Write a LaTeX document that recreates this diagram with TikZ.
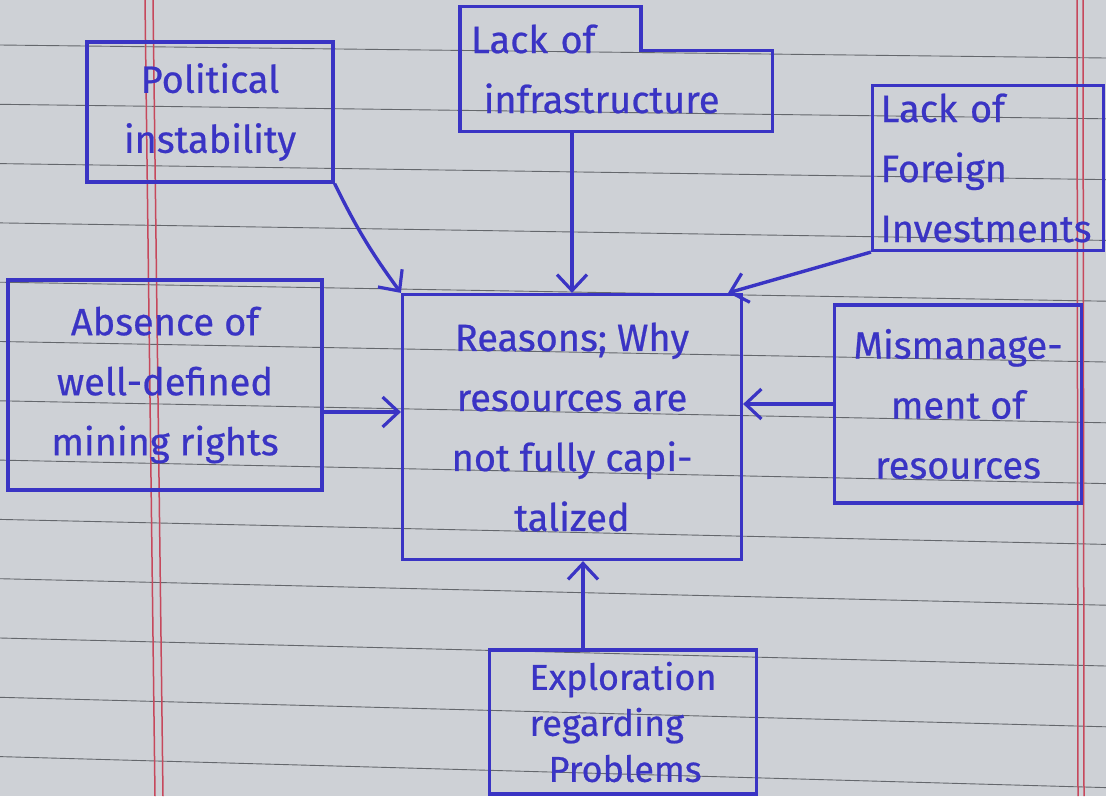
\documentclass[tikz,border=0pt]{standalone}
\usepackage{fontspec}
\newfontfamily\hand{Fira Sans}[FakeBold=0.6]
\usepackage{xcolor}
\usetikzlibrary{arrows.meta,positioning,calc}
\definecolor{ink}{RGB}{58,52,196}
\definecolor{paper}{RGB}{206,209,214}
\definecolor{rule}{RGB}{100,103,108}
\definecolor{margin}{RGB}{198,72,92}

\begin{document}
\begin{tikzpicture}[x=1pt,y=-1pt,
  box/.style={draw=ink,line width=3.2pt,text=ink,align=center,inner sep=0pt,font=\hand\fontsize{38}{60}\selectfont},
  link/.style={draw=ink,line width=3.4pt,-{Straight Barb[length=16pt,width=30pt,line width=3.2pt]}}]
\fill[paper] (0,0) rectangle (1106,796);
\useasboundingbox (0,0) rectangle (1106,796);
\foreach \i in {0,...,12}
  \draw[rule,line width=0.9pt] (0,{45+59.3*\i}) -- (1106,{58+60.8*\i});
\draw[margin,line width=1.5pt] (145,0) -- (155,796) (153,0) -- (163,796);
\draw[margin,line width=1.5pt] (1077,0) -- (1078,796) (1083,0) -- (1084,796);

\node[box,minimum width=246,minimum height=140] (pol) at (210,112) {Political\\instability};
\node[box,draw=none,minimum width=309,minimum height=122,text width=290,align=left] (infra) at (616,69) {Lack of\\\ infrastructure};
\draw[ink,line width=3.2pt] (infra.north west) -- ($(infra.north west)+(181,0)$) |- ($(infra.north east)+(0,44)$) -- (infra.south east) -- (infra.south west) -- cycle;
\node[box,minimum width=231,minimum height=165,text width=215,align=left] (foreign) at (988,168) {Lack of\\Foreign\\Investments};
\node[box,minimum width=314,minimum height=210] (absence) at (165,385) {Absence of\\well-defined\\mining rights};
\node[box,minimum width=339,minimum height=265] (reason) at (572,427) {Reasons; Why\\resources are\\not fully capi-\\talized};
\node[box,minimum width=247,minimum height=198] (mism) at (958,404) {Mismanage-\\ment of\\resources};
\node[box,minimum width=267,minimum height=144,align=left,font=\hand\fontsize{36}{46}\selectfont] (explor) at (623,722) {Exploration\\regarding\\\ \ Problems};

\coordinate (amid) at (0,412);
\coordinate (emid) at (583,0);
\draw[link] (pol.south east) to[bend right=5] (reason.north west);
\draw[link] (infra.south -| reason.north) -- (reason.north);
\draw[link] (foreign.south west) -- ($(reason.north east)+(-15,0)$);
\draw[link] (absence.east |- amid) -- (reason.west |- amid);
\draw[link] (mism.west) -- (reason.east |- mism.west);
\draw[link] (explor.north -| emid) -- (reason.south -| emid);
\end{tikzpicture}
\end{document}
